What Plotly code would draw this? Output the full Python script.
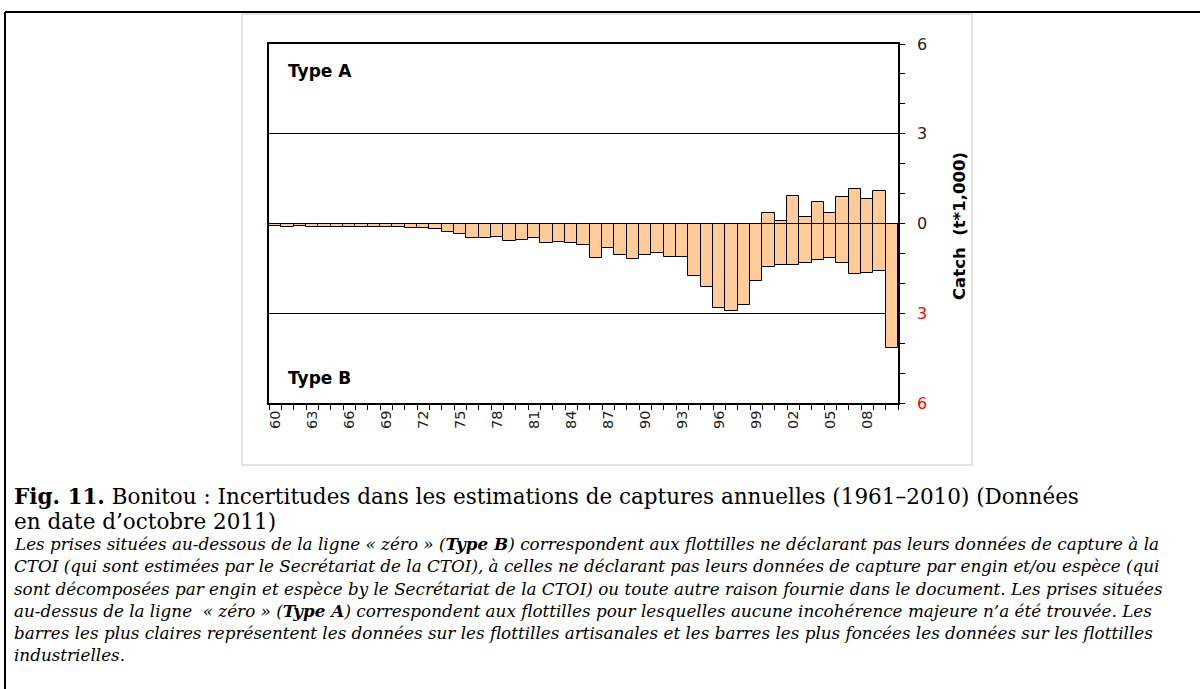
import plotly.graph_objects as go

# ---------------- data ----------------
years = list(range(1960, 2011))
type_a = [0, 0, 0, 0, 0, 0, 0, 0, 0, 0,
          0, 0, 0, 0, 0, 0, 0, 0, 0, 0,
          0, 0, 0, 0, 0, 0, 0, 0, 0, 0,
          0, 0, 0, 0, 0, 0, 0, 0, 0, 0,
          0.34, 0.07, 0.92, 0.22, 0.72, 0.34, 0.87, 1.17, 0.83, 1.10, 0]
type_b = [-0.08, -0.13, -0.08, -0.12, -0.12, -0.12, -0.12, -0.12, -0.12, -0.12,
          -0.12, -0.16, -0.16, -0.20, -0.28, -0.35, -0.50, -0.47, -0.46, -0.60,
          -0.55, -0.50, -0.66, -0.63, -0.66, -0.73, -1.16, -0.81, -1.05, -1.20,
          -1.05, -0.97, -1.13, -1.13, -1.74, -2.11, -2.81, -2.93, -2.73, -1.93,
          -1.46, -1.39, -1.39, -1.31, -1.22, -1.15, -1.31, -1.70, -1.65, -1.58, -4.15]
x_tick_years = list(range(1960, 2009, 3))
x_tick_text = ["%02d" % (y % 100) for y in x_tick_years]
y_tick_vals = [6, 3, 0, -3, -6]
y_tick_text = ["6", "3", "0",
               "<span style='color:#ff0000'>3</span>",
               "<span style='color:#ff0000'>6</span>"]

# ---------------- layout helpers ----------------
W, H = 1200, 689
L, R, T, B = 269, 302, 44, 286
PW, PH = W - L - R, H - T - B


def px(x):
    return (x - L) / PW


def py(y):
    return (H - B - y) / PH


fig = go.Figure()
bar_style = dict(color="#FFCC99", line=dict(color="#000000", width=1))
fig.add_trace(go.Bar(x=years, y=type_a, width=1, marker=bar_style, showlegend=False))
fig.add_trace(go.Bar(x=years, y=type_b, width=1, marker=bar_style, showlegend=False))

fig.update_layout(
    width=W, height=H,
    margin=dict(l=L, r=R, t=T, b=B, autoexpand=False),
    paper_bgcolor="white", plot_bgcolor="white",
    barmode="relative", bargap=0,
    font=dict(family="DejaVu Sans", color="#000000"),
    xaxis=dict(
        range=[1959.5, 2010.5], tickmode="array", tickvals=x_tick_years,
        ticktext=x_tick_text, tickangle=-90, ticks="", showgrid=False,
        zeroline=False, showline=True, linecolor="#000000", linewidth=1.5,
        mirror=True, tickfont=dict(size=14.5, color="#222222"),
        minor=dict(ticks="outside", tick0=1959.5, dtick=1, ticklen=5,
                   tickcolor="#000000", tickwidth=1, showgrid=False),
        automargin=False,
    ),
    yaxis=dict(
        range=[-6, 6], side="right", tickmode="array", tickvals=y_tick_vals,
        ticktext=y_tick_text, ticks="outside", ticklen=5, tickcolor="#000000",
        showgrid=True, gridcolor="#000000", gridwidth=1,
        zeroline=True, zerolinecolor="#000000", zerolinewidth=1.5,
        showline=True, linecolor="#000000", linewidth=1.5, mirror=True,
        tickfont=dict(size=16, color="#222222"), ticklabelstandoff=9,
        minor=dict(ticks="outside", dtick=1, tick0=0, ticklen=5,
                   tickcolor="#000000", showgrid=False),
        automargin=False,
    ),
)

# frame lines of the page and the chart box
fig.add_shape(type="line", xref="paper", yref="paper", x0=px(5), x1=px(1200),
              y0=py(12), y1=py(12), line=dict(color="#000000", width=2))
fig.add_shape(type="line", xref="paper", yref="paper", x0=px(5), x1=px(5),
              y0=py(12), y1=py(689), line=dict(color="#000000", width=2))
fig.add_shape(type="rect", xref="paper", yref="paper", x0=px(242), x1=px(972),
              y0=py(465), y1=py(14), line=dict(color="#d9d9d9", width=1.5),
              layer="below")

ann = []
ann.append(dict(text="<b>Type A</b>", x=px(286), y=py(71), xanchor="left",
                yanchor="middle", font=dict(size=17, family="DejaVu Sans")))
ann.append(dict(text="<b>Type B</b>", x=px(286), y=py(378), xanchor="left",
                yanchor="middle", font=dict(size=17, family="DejaVu Sans")))
ann.append(dict(text="<b>Catch  (t*1,000)</b>", x=px(959), y=py(226),
                xanchor="center", yanchor="middle", textangle=-90,
                font=dict(size=16.5, family="DejaVu Sans")))

serif = "DejaVu Serif"
ann.append(dict(text="<b>Fig. 11.</b> Bonitou : Incertitudes dans les estimations de captures annuelles (1961–2010) (Données",
                x=px(12), y=py(496), xanchor="left", yanchor="middle",
                font=dict(size=21.5, family=serif)))
ann.append(dict(text="en date d’octobre 2011)",
                x=px(12), y=py(521), xanchor="left", yanchor="middle",
                font=dict(size=21.5, family=serif)))
lines = [
    "Les prises situées au-dessous de la ligne « zéro » (<b>Type B</b>) correspondent aux flottilles ne déclarant pas leurs données de capture à la",
    "CTOI (qui sont estimées par le Secrétariat de la CTOI), à celles ne déclarant pas leurs données de capture par engin et/ou espèce (qui",
    "sont décomposées par engin et espèce by le Secrétariat de la CTOI) ou toute autre raison fournie dans le document. Les prises situées",
    "au-dessus de la ligne  « zéro » (<b>Type A</b>) correspondent aux flottilles pour lesquelles aucune incohérence majeure n’a été trouvée. Les",
    "barres les plus claires représentent les données sur les flottilles artisanales et les barres les plus foncées les données sur les flottilles",
    "industrielles.",
]
line_y = [544, 566, 588.5, 610.5, 633, 655]
for t, yy in zip(lines, line_y):
    ann.append(dict(text="<i>" + t + "</i>", x=px(12), y=py(yy), xanchor="left",
                    yanchor="middle", font=dict(size=16.8, family=serif)))

for a in ann:
    a.update(xref="paper", yref="paper", showarrow=False)
fig.update_layout(annotations=ann)

fig.write_html("out.html", config={"displayModeBar": False},
               post_script="document.body.style.margin='0';document.body.style.overflow='hidden';")
